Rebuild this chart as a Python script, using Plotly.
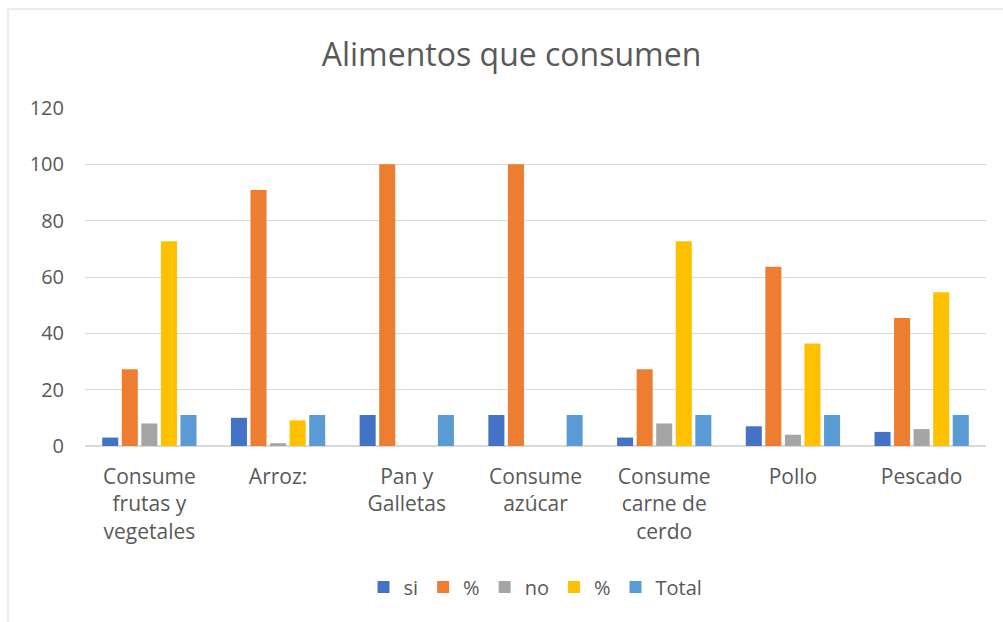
import plotly.graph_objects as go

categories = ["Consume<br>frutas y<br>vegetales", "Arroz:", "Pan y<br>Galletas", "Consume<br>azúcar",
              "Consume<br>carne de<br>cerdo", "Pollo", "Pescado"]
si = [3, 10, 11, 11, 3, 7, 5]
pct_si = [27.27, 90.91, 100, 100, 27.27, 63.64, 45.45]
no = [8, 1, 0, 0, 8, 4, 6]
pct_no = [72.73, 9.09, 0, 0, 72.73, 36.36, 54.55]
total = [11, 11, 11, 11, 11, 11, 11]

series = [("si", si, "#4472C4"), ("%", pct_si, "#ED7D31"), ("no", no, "#A5A5A5"),
          ("%", pct_no, "#FFC000"), ("Total", total, "#5B9BD5")]

W, H = 1003, 622
L, R, T, B = 85, 17, 108, 176
fig = go.Figure()
for name, vals, col in series:
    fig.add_trace(go.Bar(x=categories, y=vals, name=name, marker=dict(color=col, line=dict(width=0))))

pw = W - L - R
ph = H - T - B
def px(x):
    return (x - L) / pw
def py(y):
    return (H - B - y) / ph

font = "Open Sans, Liberation Sans, sans-serif"
fig.update_layout(
    width=W, height=H,
    margin=dict(l=L, r=R, t=T, b=B),
    paper_bgcolor="white", plot_bgcolor="white",
    barmode="group", bargap=0.24, bargroupgap=0.18,
    title=dict(text="Alimentos que consumen", x=0.51, xanchor="center", y=1 - 55 / H, yanchor="middle",
               font=dict(family=font, size=32, color="#595959")),
    font=dict(family=font, size=20, color="#595959"),
    xaxis=dict(showgrid=False, showline=False, ticks="", tickfont=dict(size=21, color="#595959"),
               ticklabelstandoff=16),
    yaxis=dict(range=[0, 120], dtick=20, showgrid=True, gridcolor="#D9D9D9", gridwidth=1,
               zeroline=True, zerolinecolor="#D9D9D9", zerolinewidth=1.5, showline=False,
               tickfont=dict(size=20, color="#595959"), ticklabelstandoff=20),
    legend=dict(orientation="h", x=0.5, xanchor="center", y=py(587), yanchor="middle",
                font=dict(size=20, color="#595959"), itemwidth=30, traceorder="normal"),
    showlegend=True,
)
fig.add_shape(type="rect", xref="paper", yref="paper", x0=px(8), y0=py(9), x1=px(1010), y1=py(640),
              line=dict(color="#D9D9D9", width=1), fillcolor="rgba(0,0,0,0)", layer="below")
fig.write_html("out.html")
